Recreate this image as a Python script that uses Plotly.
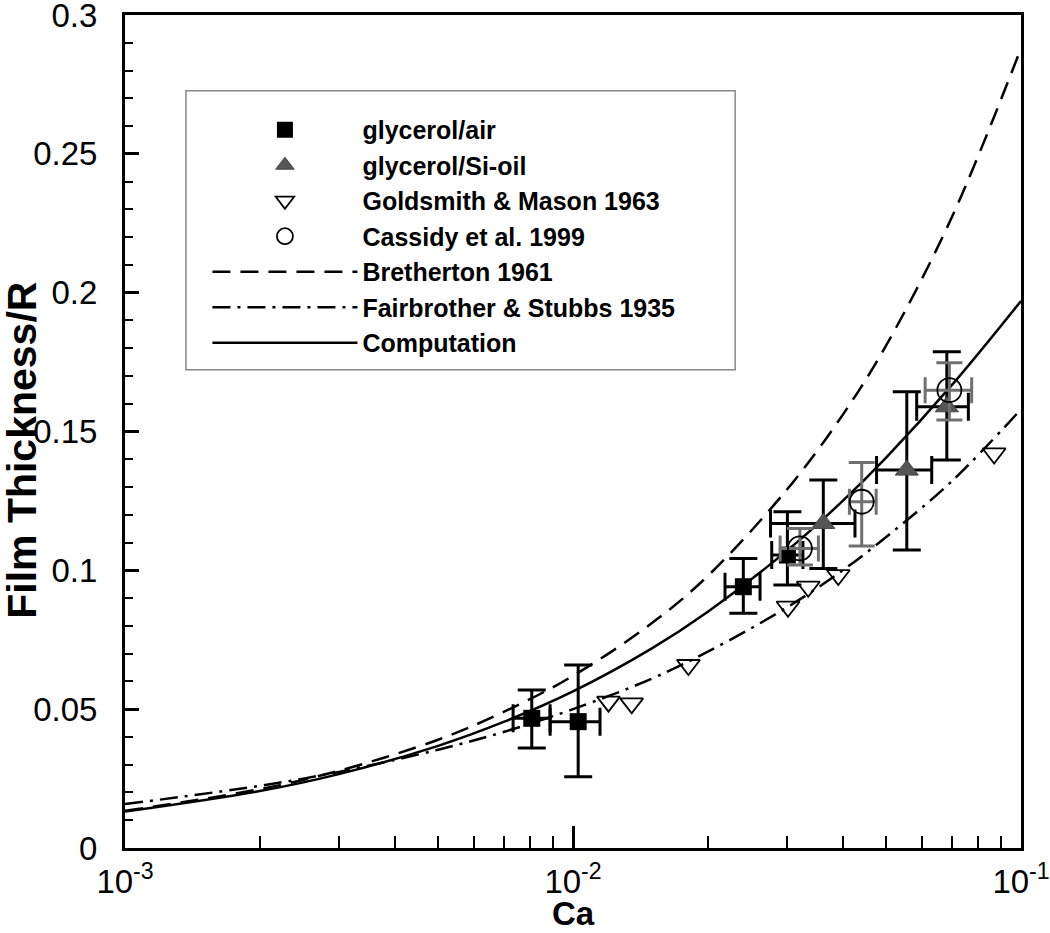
import plotly.graph_objects as go

# model curves at these capillary numbers
ca_curve = [0.001, 0.002, 0.003, 0.005, 0.007, 0.01, 0.015, 0.02, 0.03, 0.04, 0.05, 0.07, 0.1]
bretherton = [0.0134, 0.0212, 0.0278, 0.039, 0.049, 0.062, 0.081, 0.098, 0.129, 0.156, 0.181, 0.227, 0.288]
fairbrother = [0.0158, 0.0224, 0.0274, 0.0354, 0.0418, 0.050, 0.061, 0.0707, 0.0866, 0.100, 0.112, 0.132, 0.158]
computation = [0.0131, 0.0205, 0.0266, 0.0368, 0.0454, 0.0564, 0.0719, 0.0851, 0.107, 0.125, 0.1406, 0.1666, 0.197]

# glycerol/air
air_ca = [0.00809, 0.01027, 0.0240, 0.0301]
air_h = [0.0467, 0.0455, 0.0941, 0.1055]
air_h_hi = [0.0569, 0.0659, 0.1043, 0.1211]
air_h_lo = [0.0360, 0.0257, 0.0845, 0.0947]
air_ca_lo = [0.00735, 0.00889, 0.02184, 0.02777]
air_ca_hi = [0.00889, 0.01149, 0.02615, 0.0326]

# glycerol/Si-oil
oil_ca = [0.0362, 0.0556, 0.0683]
oil_h = [0.1169, 0.1361, 0.1589]
oil_h_hi = [0.1325, 0.1643, 0.1787]
oil_h_lo = [0.1007, 0.1073, 0.1397]
oil_ca_lo = [0.0276, 0.0476, 0.0585]
oil_ca_hi = [0.0426, 0.0632, 0.0763]

# Cassidy et al. 1999
cas_ca = [0.0321, 0.0441, 0.0692]
cas_h = [0.1079, 0.1247, 0.1649]
cas_h_hi = [0.1151, 0.1388, 0.1748]
cas_h_lo = [0.1019, 0.1088, 0.1541]
cas_ca_lo = [0.0290, 0.0414, 0.0611]
cas_ca_hi = [0.0353, 0.0475, 0.0776]

# Goldsmith & Mason 1963
gm_ca = [0.0120, 0.01352, 0.0181, 0.0302, 0.0335, 0.0391, 0.0871]
gm_h = [0.0527, 0.0521, 0.0659, 0.0869, 0.0941, 0.0983, 0.1421]

x_ticks = [1e-3, 1e-2, 1e-1]
x_tick_text = ["10<sup>-3</sup>", "10<sup>-2</sup>", "10<sup>-1</sup>"]
x_minor = [2e-3, 3e-3, 4e-3, 5e-3, 6e-3, 7e-3, 8e-3, 9e-3,
           2e-2, 3e-2, 4e-2, 5e-2, 6e-2, 7e-2, 8e-2, 9e-2]
y_ticks = [0, 0.05, 0.1, 0.15, 0.2, 0.25, 0.3]
y_tick_text = ["0", "0.05", "0.1", "0.15", "0.2", "0.25", "0.3"]
y_minor = [i / 100 for i in range(31)]

FONT = "Liberation Sans, Arial, sans-serif"


def errs(v, lo, hi):
    return dict(type="data", symmetric=False,
                array=[h - m for m, h in zip(v, hi)],
                arrayminus=[m - l for m, l in zip(v, lo)])


fig = go.Figure()

fig.add_trace(go.Scatter(x=ca_curve, y=bretherton, mode="lines", name="Bretherton 1961",
                         line=dict(color="black", width=2.5, dash="18px,10px", shape="spline"),
                         legendrank=5))
fig.add_trace(go.Scatter(x=ca_curve, y=fairbrother, mode="lines", name="Fairbrother & Stubbs 1935",
                         line=dict(color="black", width=2.5, dash="18px,7px,3px,7px", shape="spline"),
                         legendrank=6))
fig.add_trace(go.Scatter(x=ca_curve, y=computation, mode="lines", name="Computation",
                         line=dict(color="black", width=2.5, shape="spline"),
                         legendrank=7))

ex = errs(air_ca, air_ca_lo, air_ca_hi)
ey = errs(air_h, air_h_lo, air_h_hi)
fig.add_trace(go.Scatter(x=air_ca, y=air_h, mode="markers", name="glycerol/air",
                         marker=dict(symbol="square", size=17, color="black"),
                         error_x=dict(**ex, color="black", thickness=3, width=14),
                         error_y=dict(**ey, color="black", thickness=3, width=14),
                         legendrank=1))

ex = errs(oil_ca, oil_ca_lo, oil_ca_hi)
ey = errs(oil_h, oil_h_lo, oil_h_hi)
fig.add_trace(go.Scatter(x=oil_ca, y=oil_h, mode="markers", name="glycerol/Si-oil",
                         marker=dict(symbol="triangle-up", size=20, color="#555555",
                                     line=dict(color="#444444", width=1)),
                         error_x=dict(**ex, color="black", thickness=3, width=14),
                         error_y=dict(**ey, color="black", thickness=3, width=14),
                         legendrank=2))

fig.add_trace(go.Scatter(x=gm_ca, y=gm_h, mode="markers", name="Goldsmith & Mason 1963",
                         marker=dict(symbol="triangle-down-open", size=20, color="black",
                                     line=dict(width=1.8)),
                         legendrank=3))

ex = errs(cas_ca, cas_ca_lo, cas_ca_hi)
ey = errs(cas_h, cas_h_lo, cas_h_hi)
fig.add_trace(go.Scatter(x=cas_ca, y=cas_h, mode="markers", name="Cassidy et al. 1999",
                         marker=dict(symbol="circle-open", size=24, color="black",
                                     line=dict(width=1.8)),
                         error_x=dict(**ex, color="#707070", thickness=3, width=13),
                         error_y=dict(**ey, color="#707070", thickness=3, width=13),
                         legendrank=4))

# legend frame
fig.add_shape(type="rect", xref="paper", yref="paper", x0=0.068, x1=0.681, y0=0.574, y1=0.909,
              line=dict(color="#888888", width=1.5), fillcolor="white", layer="below")

# axis titles placed by hand so they sit close to the tick labels
fig.add_annotation(text="<b>Ca</b>", xref="paper", yref="paper", x=0.5, y=-0.079,
                   xanchor="center", yanchor="middle", showarrow=False,
                   font=dict(size=33, family=FONT, color="black"))
fig.add_annotation(text="<b>Film Thickness/R</b>", xref="paper", yref="paper", x=-0.115, y=0.478,
                   xanchor="center", yanchor="middle", showarrow=False, textangle=-90,
                   font=dict(size=41, family=FONT, color="black"))

fig.update_layout(
    width=1050, height=933,
    margin=dict(l=125, r=29, t=15, b=85),
    paper_bgcolor="white", plot_bgcolor="white",
    font=dict(family=FONT, color="black"),
    showlegend=True,
    legend=dict(x=0.092, y=0.8896, xanchor="left", yanchor="top",
                bgcolor="rgba(0,0,0,0)", borderwidth=0, itemwidth=145,
                font=dict(size=25, family=FONT, weight="bold"), tracegroupgap=0),
    xaxis=dict(type="log", range=[-3, -1], tickmode="array", tickvals=x_ticks, ticktext=x_tick_text,
               ticks="inside", ticklen=22, tickwidth=2.5, tickcolor="black",
               minor=dict(tickmode="array", tickvals=x_minor, ticks="inside", ticklen=12,
                          tickwidth=1.5, tickcolor="black"),
               showline=True, linewidth=3, linecolor="black", mirror=True, showgrid=False,
               tickfont=dict(size=33), zeroline=False, automargin=False, ticklabelstandoff=2,
               ticklabeloverflow="allow"),
    yaxis=dict(range=[0, 0.3], tickmode="array", tickvals=y_ticks, ticktext=y_tick_text,
               ticks="inside", ticklen=14, tickwidth=2.5, tickcolor="black",
               minor=dict(tickmode="array", tickvals=y_minor, ticks="inside", ticklen=8,
                          tickwidth=1.5, tickcolor="black"),
               showline=True, linewidth=3, linecolor="black", mirror=True, showgrid=False,
               tickfont=dict(size=33), zeroline=False, ticklabelstandoff=18, automargin=False,
               ticklabeloverflow="allow"),
)

# drop the default 8px page margin so the 1050x933 figure fills the window
fig.write_html("out.html", config={"displayModeBar": False},
               post_script="document.body.style.margin = '0';")
